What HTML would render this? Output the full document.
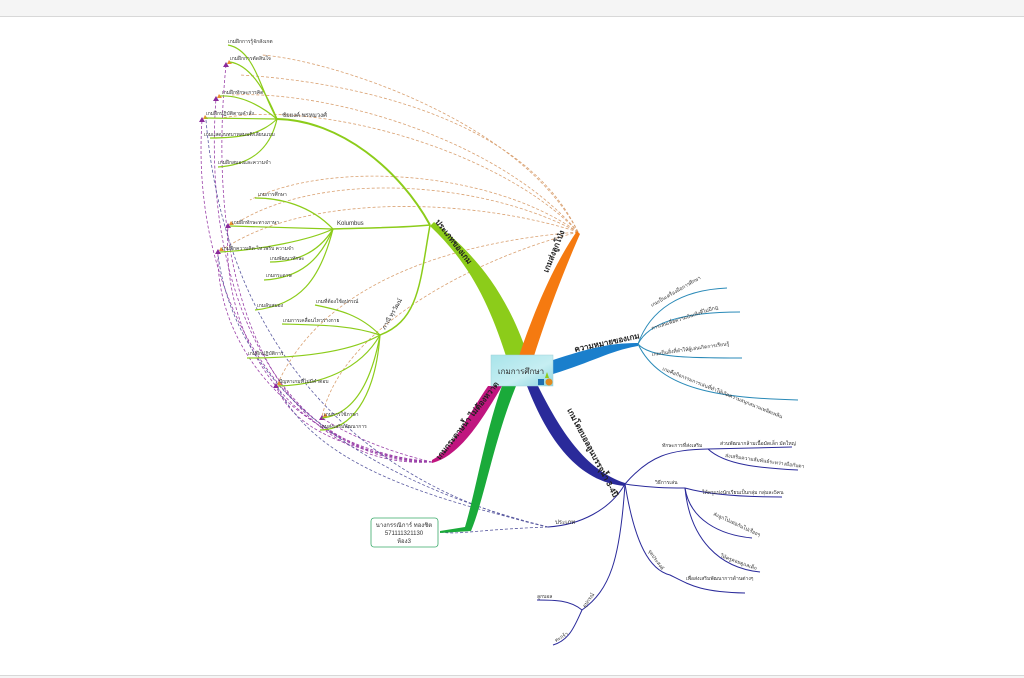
<!DOCTYPE html>
<html><head><meta charset="utf-8">
<style>
html,body{margin:0;padding:0;background:#fff;width:1024px;height:678px;overflow:hidden}
svg{display:block}
text{font-family:"Liberation Sans","Noto Sans CJK SC",sans-serif;fill:#333}
.s{font-size:6px}
.m{font-size:8px}
.b{font-weight:bold;fill:#222}
</style></head><body>
<svg width="1024" height="678" viewBox="0 0 1024 678" xmlns="http://www.w3.org/2000/svg">
<defs>
<linearGradient id="cb" x1="0" y1="0" x2="1" y2="1"><stop offset="0" stop-color="#a8e4ea"/><stop offset="0.6" stop-color="#c6eef2"/><stop offset="1" stop-color="#8fd5df"/></linearGradient>
</defs>
<rect x="0" y="0" width="1024" height="16" fill="#f5f5f5"/>
<line x1="0" y1="16.5" x2="1024" y2="16.5" stroke="#d8d8d8"/>
<rect x="0" y="675" width="1024" height="3" fill="#f5f5f5"/>
<line x1="0" y1="675.5" x2="1024" y2="675.5" stroke="#d8d8d8"/>

<g fill="none" stroke="#d9a070" stroke-width="0.8" stroke-dasharray="3,2">
<path d="M578,232 C520,120 330,60 262,55"/>
<path d="M578,232 C520,110 330,80 240,75"/>
<path d="M578,232 C500,140 330,90 232,95"/>
<path d="M578,232 C500,150 320,100 222,118"/>
<path d="M578,232 C490,170 330,160 250,200"/>
<path d="M578,232 C480,180 320,170 235,224"/>
<path d="M578,232 C480,200 310,190 222,250"/>
<path d="M578,232 C480,240 330,270 278,383"/>
<path d="M578,232 C470,260 340,330 322,417"/>
</g>
<g fill="none" stroke="#9a40a8" stroke-width="0.8" stroke-dasharray="3,2">
<path d="M432,462 C300,470 200,330 226,65"/>
<path d="M432,462 C300,465 200,320 216,98"/>
<path d="M432,462 C290,460 190,300 202,120"/>
<path d="M432,462 C300,455 220,350 228,226"/>
<path d="M432,462 C300,450 215,350 218,252"/>
<path d="M432,462 C330,450 290,420 276,386"/>
<path d="M432,462 C380,450 340,430 322,418"/>
</g>
<g fill="none" stroke="#5a5aa0" stroke-width="0.8" stroke-dasharray="3,2">
<path d="M548,527 C420,500 230,400 206,120"/>
<path d="M548,527 C420,495 240,420 218,255"/>
<path d="M548,527 C440,500 320,470 278,388"/>
<path d="M548,527 C470,530 460,535 440,532"/>
</g>
<g fill="#8a2a9a">
<path d="M226,62 l3,5 h-6z"/><path d="M216,96 l3,5 h-6z"/><path d="M202,117 l3,5 h-6z"/>
<path d="M228,223 l3,5 h-6z"/><path d="M218,249 l3,5 h-6z"/><path d="M276,383 l3,5 h-6z"/><path d="M322,415 l3,5 h-6z"/>
</g>
<g fill="#e89030">
<path d="M229,60 l3,4 h-5z"/><path d="M219,94 l3,4 h-5z"/><path d="M205,115 l3,4 h-5z"/>
<path d="M231,221 l3,4 h-5z"/><path d="M221,247 l3,4 h-5z"/><path d="M279,381 l3,4 h-5z"/><path d="M325,413 l3,4 h-5z"/>
</g>

<!-- main branches -->
<path d="M506,356 C488,300 468,262 430,226 L434,222 C478,256 508,296 528,356Z" fill="#8ccc1a"/>
<path d="M519,356 C538,300 556,262 577,231 L580,234 C566,266 550,306 534,356Z" fill="#f57a10"/>
<path d="M553,360 C590,348 610,343 638,343 L638,346 C612,350 592,362 553,374Z" fill="#1a7fcc"/>
<path d="M538,386 C560,430 585,470 625,483 L625,486 C578,482 548,440 527,386Z" fill="#2a2a9a"/>
<path d="M516,386 C494,440 484,500 471,531 L440,533 L440,531 L465,527 C476,490 486,430 502,386Z" fill="#1aaa3a"/>
<path d="M502,386 C482,420 460,456 432,463 L432,460 C452,450 468,415 488,386Z" fill="#c0157f"/>

<g fill="none" stroke="#8ccc1a" stroke-width="1.2">
<path d="M430,225 C400,170 340,120 277,119" stroke-width="2"/>
<path d="M430,225 C400,228 360,228 333,229" stroke-width="1.5"/>
<path d="M430,225 C420,280 420,320 380,335" stroke-width="1.5"/>
<path d="M277,119 C260,90 255,50 228,45"/><path d="M277,119 C265,90 250,65 230,62"/>
<path d="M277,119 C260,105 240,95 220,96"/><path d="M277,119 L205,118"/>
<path d="M277,119 C260,135 240,138 210,138"/><path d="M277,119 C270,150 250,165 218,167"/>
<path d="M333,229 C310,205 280,198 255,198"/><path d="M333,229 L230,226"/>
<path d="M333,229 C310,240 260,250 220,252"/><path d="M333,229 C320,250 300,262 270,262"/>
<path d="M333,229 C320,260 300,278 264,280"/><path d="M333,229 C320,280 300,305 255,310"/>
<path d="M380,335 C360,315 340,310 315,305"/><path d="M380,335 C350,325 320,325 282,324"/>
<path d="M380,335 C350,352 300,358 247,358"/><path d="M380,335 C360,370 320,385 278,386"/>
<path d="M380,335 C370,390 350,415 322,418"/><path d="M380,335 C375,400 350,430 320,430"/>
</g>
<g fill="none" stroke="#2a8ab8" stroke-width="1">
<path d="M638,344 C650,310 680,290 727,288"/><path d="M638,344 C650,320 690,312 740,312"/>
<path d="M638,344 C650,358 690,358 742,358"/><path d="M638,344 C660,390 720,398 798,400"/>
</g>
<g fill="none" stroke="#2a2a9a" stroke-width="1">
<path d="M625,484 C650,455 670,450 708,449"/><path d="M708,449 L792,447"/><path d="M708,449 C725,465 760,468 798,470"/>
<path d="M625,484 C650,488 670,488 685,488"/><path d="M685,488 C710,495 750,497 782,497"/>
<path d="M685,488 C690,520 720,535 752,538"/><path d="M685,488 C690,540 720,568 760,572"/>
<path d="M625,484 C635,545 650,570 670,575 C690,585 700,592 745,593"/>
<path d="M625,484 C610,510 580,525 548,527"/>
<path d="M625,484 C620,560 610,590 582,610 C570,600 555,600 537,600"/><path d="M582,610 C575,625 570,640 553,645"/>
</g>

<rect x="491" y="355" width="62" height="31" fill="url(#cb)" stroke="#9fd0d8" stroke-width="0.5"/>
<text x="521" y="374" class="m" text-anchor="middle">เกมการศึกษา</text>
<rect x="538" y="379" width="6" height="6" fill="#1f6fb0"/><circle cx="549" cy="382" r="3.5" fill="#e08a20"/><path d="M545,378 l2,-6 l2,6z" fill="#8ccc1a"/>

<rect x="371" y="518" width="67" height="29" rx="3" fill="#fff" stroke="#3aaa6a" stroke-width="0.8"/>
<text x="404" y="527" class="s" text-anchor="middle">นางกรรณิการ์ ทองชิต</text>
<text x="404" y="535" class="s" text-anchor="middle">571111321130</text>
<text x="404" y="543" class="s" text-anchor="middle">ห้อง3</text>

<text class="m b" transform="translate(435,222) rotate(52)">ประเภทของเกม</text>
<text class="m b" transform="translate(548,273) rotate(-68)">เกมส่งลูกโป่ง</text>
<text class="m b" transform="translate(575,352) rotate(-12)">ความหมายของเกม</text>
<text class="m b" transform="translate(567,410) rotate(62)">เกมโดยบอลลูนบรรจุน้ำ 3-4ปี</text>
<text class="m b" transform="translate(440,460) rotate(-52)">เกมกระดาษน้ำ ไม่ต้องหวาด</text>
<text class="s" x="282" y="117">ชัยยงค์ พรหมวงศ์</text>
<text class="s" x="337" y="225">Kolumbus</text>
<text class="s" transform="translate(385,330) rotate(-60)">ภาณี ทุรวัฒน์</text>

<g class="s" style="font-size:5px">
<text x="228" y="43">เกมฝึกการรู้จักสังเกต</text>
<text x="230" y="60">เกมฝึกการตัดสินใจ</text>
<text x="222" y="94">เกมฝึกทักษะการคิด</text>
<text x="206" y="115">เกมฝึกปฏิบัติตามคำสั่ง</text>
<text x="204" y="136">เกมแสดงบทบาทสมมติ/เลียนแบบ</text>
<text x="218" y="164">เกมฝึกสมองและความจำ</text>
<text x="258" y="196">เกมการศึกษา</text>
<text x="232" y="224">เกมฝึกทักษะทางภาษา</text>
<text x="222" y="250">เกมฝึกความคิด-ไหวพริบ ความจำ</text>
<text x="270" y="260">เกมพัฒนาทักษะ</text>
<text x="266" y="277">เกมกระดาษ</text>
<text x="257" y="307">เกมลับสมอง</text>
<text x="316" y="303">เกมที่ต้องใช้อุปกรณ์</text>
<text x="283" y="322">เกมการเคลื่อนไหวร่างกาย</text>
<text x="248" y="355">เกมฝึกปฏิบัติการ</text>
<text x="279" y="383">ปัญหาเกมที่ไม่มีคำตอบ</text>
<text x="324" y="416">เกมการใช้ภาษา</text>
<text x="320" y="428">เกมส่งเสริมพัฒนาการ</text>
<text transform="translate(652,307) rotate(-30)">เกมเป็นเครื่องมือการศึกษา</text>
<text transform="translate(652,330) rotate(-18)">การเล่นเพื่อความบันเทิงที่ไม่มีกฎ</text>
<text transform="translate(652,356) rotate(-8)">เกมเป็นสิ่งที่ทำให้ผู้เล่นเกิดการเรียนรู้</text>
<text transform="translate(662,370) rotate(22)">เกมคือกิจกรรมการเล่นที่ทำให้เกิดความสนุกสนานเพลิดเพลิน</text>
<text x="662" y="447">ทักษะการที่ส่งเสริม</text>
<text x="720" y="445">ส่วนพัฒนากล้ามเนื้อมัดเล็ก มัดใหญ่</text>
<text transform="translate(725,457) rotate(8)">ส่งเสริมความสัมพันธ์ระหว่างมือกับตา</text>
<text x="655" y="484">วิธีการเล่น</text>
<text x="702" y="494">ให้ครูแบ่งนักเรียนเป็นกลุ่ม กลุ่มละ5คน</text>
<text transform="translate(713,515) rotate(25)">ส่งลูกโป่งต่อกันไปเรื่อยๆ</text>
<text transform="translate(720,557) rotate(20)">ให้ครูคอยดูแลเด็ก</text>
<text transform="translate(648,551) rotate(55)">จุดประสงค์</text>
<text x="686" y="580">เพื่อส่งเสริมพัฒนาการด้านต่างๆ</text>
<text x="555" y="524" style="font-size:6px">ประเภท</text>
<text transform="translate(585,608) rotate(-55)">อุปกรณ์</text>
<text x="537" y="598">ลูกบอล</text>
<text transform="translate(556,642) rotate(-30)">ตะกร้า</text>
</g>
</svg>
</body></html>
